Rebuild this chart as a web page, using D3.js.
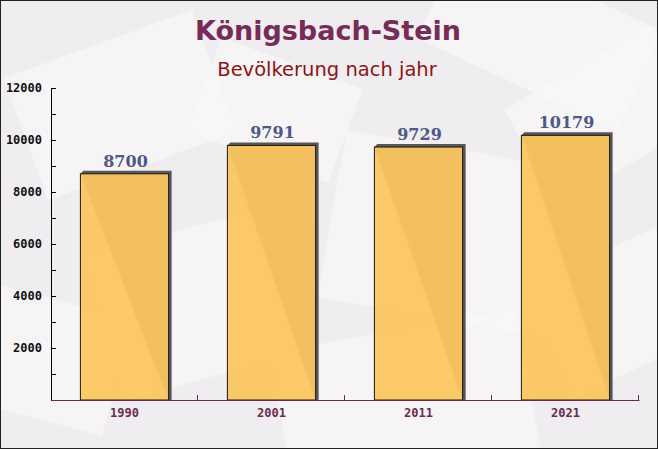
<!DOCTYPE html>
<html><head><meta charset="utf-8">
<script src="https://cdn.jsdelivr.net/npm/d3@7"></script>
<style>html,body{margin:0;padding:0;background:#fff}</style>
</head><body>
<script>
const categories = ["1990", "2001", "2011", "2021"];
const values = [8700, 9791, 9729, 10179];
const yTicks = [2000, 4000, 6000, 8000, 10000, 12000];
const title = "Königsbach-Stein";
const subtitle = "Bevölkerung nach jahr";

const W = 658, H = 449;
const svg = d3.select("body").append("svg").attr("width", W).attr("height", H);

// background
svg.append("rect").attr("x",0).attr("y",0).attr("width",W).attr("height",H).attr("fill","#efedef");
const deco = [
  [20,40,200,130,-20],[330,150,250,170,10],[430,-20,220,110,25],[100,230,180,150,-15],
  [540,250,160,120,-25],[-20,300,140,120,15],[280,330,250,140,-10],[520,60,170,110,-30],[200,60,150,100,20]
];
svg.append("g").selectAll("rect").data(deco).join("rect")
  .attr("x",d=>d[0]).attr("y",d=>d[1]).attr("width",d=>d[2]).attr("height",d=>d[3])
  .attr("transform",d=>`rotate(${d[4]},${d[0]+d[2]/2},${d[1]+d[3]/2})`)
  .attr("fill","#faf8f8").attr("opacity",0.6);

const x = d3.scaleBand().domain(categories).range([51, 639]).paddingInner(0.4).paddingOuter(0.2);
const y = d3.scaleLinear().domain([0, 12000]).range([400, 88]);

// bars with shadow
const g = svg.append("g");
const off = 3;
g.selectAll("path.shadow").data(values).join("path").attr("class","shadow")
  .attr("d",(d,i)=>{
    const x0 = x(categories[i]), x1 = x0 + x.bandwidth(), yt = y(d), yb = y(0);
    return `M${x0},${yt} L${x0+off},${yt-off} L${x1+off},${yt-off} L${x1+off},${yb} L${x1},${yb} Z`;
  })
  .attr("fill","#5a5558");
g.selectAll("rect.bar").data(values).join("rect").attr("class","bar")
  .attr("x",(d,i)=>x(categories[i])).attr("y",d=>y(d))
  .attr("width",x.bandwidth()).attr("height",d=>y(0)-y(d))
  .attr("fill","#fbc660").attr("fill-opacity",0.95)
  .attr("stroke","#1a1a1a").attr("stroke-width",1);

// value labels
g.selectAll("text.val").data(values).join("text").attr("class","val")
  .attr("x",(d,i)=>x(categories[i]) + x.bandwidth()/2 + 1)
  .attr("y",d=>y(d)-7)
  .attr("text-anchor","middle")
  .attr("font-family","'DejaVu Serif', serif").attr("font-weight","bold").attr("font-size",16)
  .attr("fill","#4e5888")
  .text(d=>d);

// y axis
const yAxis = d3.axisLeft(y).tickValues(yTicks).tickSize(0).tickPadding(9).tickFormat(d=>d);
const ya = svg.append("g").attr("transform","translate(51,0)").call(yAxis);
ya.select(".domain").attr("stroke","#000");
ya.selectAll("text").attr("font-family","'DejaVu Sans Mono', monospace").attr("font-weight","bold").attr("font-size",12).attr("fill","#111");
const minor = d3.range(0, 12001, 1000);
ya.selectAll("line.mt").data(minor).join("line").attr("class","mt")
  .attr("x1",0).attr("x2",5).attr("y1",d=>y(d)+0.5).attr("y2",d=>y(d)+0.5).attr("stroke","#000");

// x axis
const xAxis = d3.axisBottom(x).tickSize(0).tickPadding(8);
const xa = svg.append("g").attr("transform","translate(0,400)").call(xAxis);
xa.select(".domain").attr("stroke","#6b2a4f");
xa.selectAll("text").attr("font-family","'DejaVu Sans Mono', monospace").attr("font-weight","bold").attr("font-size",12).attr("fill","#6b2a4f");
const bounds = categories.map((c,i)=>51 + x.step()*(i+1)).filter(v=>v<=640);
xa.selectAll("line.bt").data(bounds).join("line").attr("class","bt")
  .attr("x1",d=>Math.round(d)-0.5).attr("x2",d=>Math.round(d)-0.5).attr("y1",0).attr("y2",-5).attr("stroke","#6b2a4f");

// titles
svg.append("text").attr("x",328).attr("y",40).attr("text-anchor","middle")
  .attr("font-family","'DejaVu Sans', Verdana, sans-serif").attr("font-weight","bold").attr("font-size",27)
  .attr("fill","#772b57").text(title);
svg.append("text").attr("x",327).attr("y",76).attr("text-anchor","middle")
  .attr("font-family","'DejaVu Sans', Verdana, sans-serif").attr("font-size",19.5)
  .attr("fill","#8b1515").text(subtitle);

// border
svg.append("rect").attr("x",0.5).attr("y",0.5).attr("width",W-1).attr("height",H-1)
  .attr("fill","none").attr("stroke","#222");
</script>
</body></html>
